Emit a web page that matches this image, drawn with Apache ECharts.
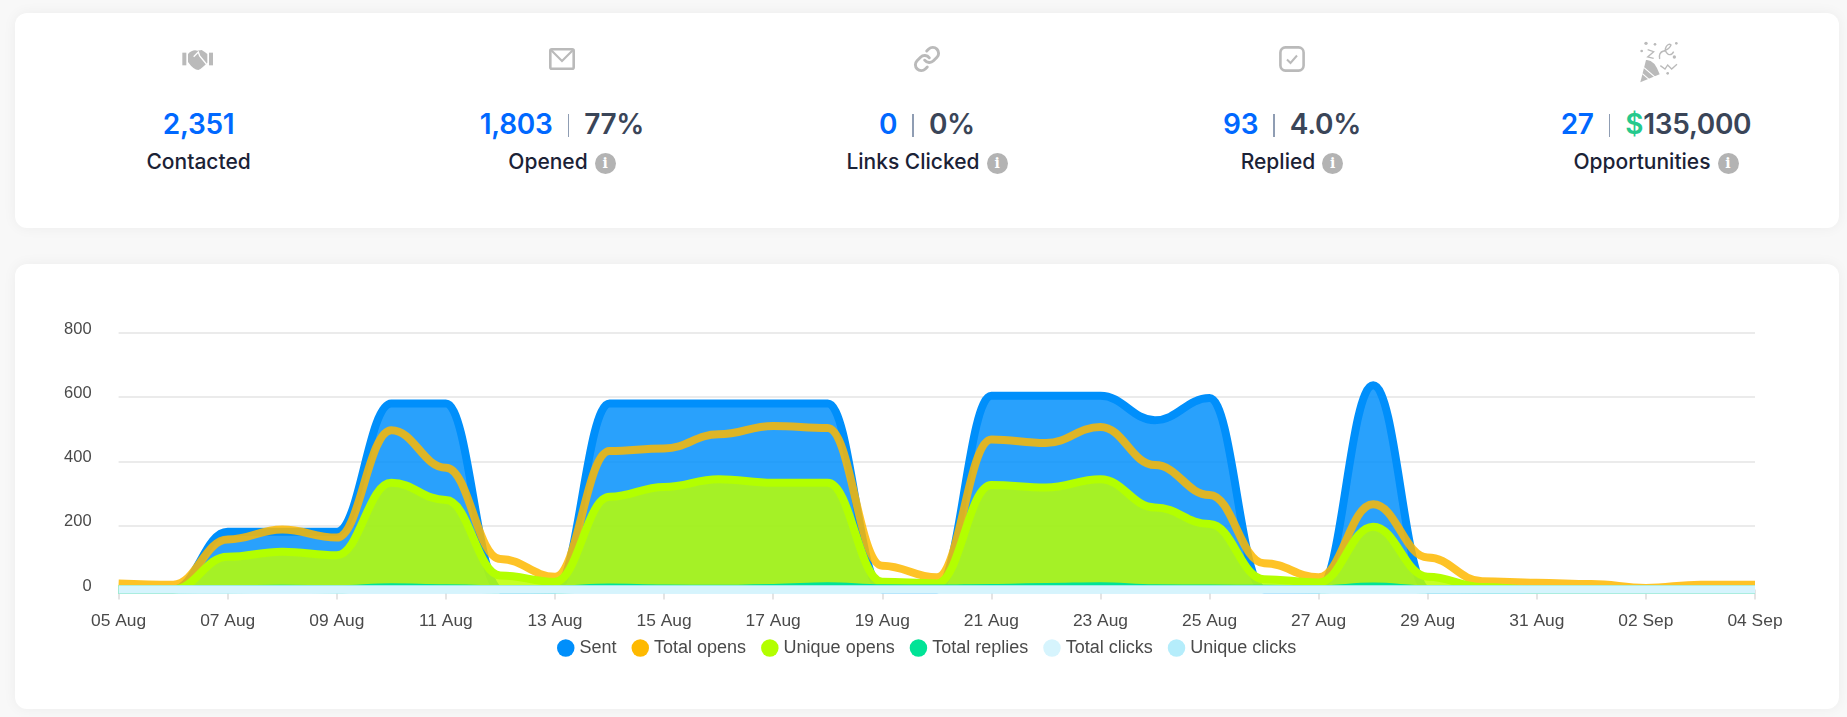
<!DOCTYPE html>
<html>
<head>
<meta charset="utf-8">
<script src="https://cdn.jsdelivr.net/npm/echarts@6/dist/echarts.min.js"></script>
<style>
html,body{margin:0;padding:0;width:1847px;height:717px;overflow:hidden;background:#f8f8f8;}
.card{position:absolute;left:15px;width:1824px;background:#fff;border-radius:12px;box-shadow:0 0 14px rgba(0,0,0,.05);}
#c1{top:13px;height:215px;}
#c2{top:264px;height:445px;}
#chart{position:absolute;left:0;top:0;width:1847px;height:717px;}
.kpi{position:absolute;top:0;width:364px;height:228px;font-family:Inter,"Noto Sans",sans-serif;text-align:center;}
.icon{position:absolute;left:0;width:100%;text-align:center;}
.icon svg{display:block;margin:0 auto;}
.num{position:absolute;left:-40px;right:-40px;top:105.5px;height:36px;line-height:36px;font-size:28px;font-weight:600;color:#3a4558;letter-spacing:-.3px;white-space:nowrap;}
.num .b{color:#0068ff;}
.num .g{color:#25c98c;}
.num .sep{display:inline-block;width:1.6px;height:23px;background:#8f9db3;margin:0 15px;vertical-align:-3px;}
.lab{position:absolute;left:-40px;right:-40px;top:149px;height:26px;line-height:26px;font-size:21px;font-weight:500;color:#1b2236;white-space:nowrap;}
.info{display:inline-block;width:21px;height:21px;border-radius:50%;background:#b3b3b3;color:#fff;font:700 14px/21px "DejaVu Serif",serif;margin-left:7px;vertical-align:1px;}
</style>
</head>
<body>
<div class="card" id="c1"></div>
<div class="card" id="c2"></div>
<div id="kpis"></div>
<div id="chart"></div>
<script>
const days = ['05 Aug','06 Aug','07 Aug','08 Aug','09 Aug','10 Aug','11 Aug','12 Aug','13 Aug','14 Aug','15 Aug','16 Aug','17 Aug','18 Aug','19 Aug','20 Aug','21 Aug','22 Aug','23 Aug','24 Aug','25 Aug','26 Aug','27 Aug','28 Aug','29 Aug','30 Aug','31 Aug','01 Sep','02 Sep','03 Sep','04 Sep'];
const sent        = [0,0,180,180,180,580,580,0,0,580,580,580,580,580,0,0,604,604,604,528,597,0,0,637,0,0,0,0,0,0,0];
const totalOpens  = [19,15,156,187,162,497,380,95,40,432,440,484,510,504,74,38,468,457,507,388,295,82,38,266,100,26,21,17,5,15,15];
const uniqueOpens = [0,0,102,118,107,333,279,44,24,289,320,344,333,333,24,19,326,318,344,256,204,32,22,196,40,8,0,0,0,0,0];
const totalReplies= [0,0,1,2,1,7,4,1,0,6,3,2,5,10,4,3,5,8,10,4,3,2,1,9,1,0,0,0,0,0,0];
const totalClicks = [0,0,0,0,0,0,0,0,0,0,0,0,0,0,0,0,0,0,0,0,0,0,0,0,0,0,0,0,0,0,0];
const uniqueClicks= [0,0,0,0,0,0,0,0,0,0,0,0,0,0,0,0,0,0,0,0,0,0,0,0,0,0,0,0,0,0,0];
const seriesNames = ['Sent','Total opens','Unique opens','Total replies','Total clicks','Unique clicks'];
const seriesColors= ['#008ffb','#feb900','#b3ff00','#00e396','#d6f4fd','#b5edfb'];
const kpiCenters  = [198.6,562,927,1292,1656];
const kpiLabels   = ['Contacted','Opened','Links Clicked','Replied','Opportunities'];
const kpiCounts   = ['2,351','1,803','0','93','27'];
const kpiRates    = ['','77%','0%','4.0%','135,000'];
const kpiInfo     = [false,true,true,true,true];

const G='#bababa';
const icons=[
 {top:40,svg:`<svg width="60" height="40" viewBox="0 0 180 120"><rect x="40" y="38" width="12" height="38" fill="${G}"/><rect x="120" y="38" width="12" height="38" fill="${G}"/><path d="M57 42 Q70 28 85 32 L98 30 Q108 36 115 42 L115 68 Q100 84 88 90 Q74 90 57 66Z" fill="${G}"/><path d="M74 50 L88 36 L92 48 L112 72" stroke="#fff" stroke-width="4" fill="none"/></svg>`},
 {top:48,svg:`<svg width="26" height="22" viewBox="0 0 26 22"><rect x="1.3" y="1.3" width="23.4" height="19.4" rx="1.5" fill="none" stroke="${G}" stroke-width="2.6"/><path d="M2 2 L13 13 L24 2" fill="none" stroke="${G}" stroke-width="2.2"/></svg>`},
 {top:45,svg:`<svg width="28" height="28" viewBox="0 0 24 24" fill="none" stroke="${G}" stroke-width="2.5" stroke-linecap="round"><path d="M10 13a5 5 0 0 0 7.54.54l3-3a5 5 0 0 0-7.07-7.07l-1.72 1.71"/><path d="M14 11a5 5 0 0 0-7.54-.54l-3 3a5 5 0 0 0 7.07 7.07l1.71-1.71"/></svg>`},
 {top:46,svg:`<svg width="26" height="26" viewBox="0 0 26 26" fill="none" stroke="${G}"><rect x="1.4" y="1.4" width="23.2" height="23.2" rx="5" stroke-width="2.6"/><path d="M8 13.5 L11.5 17 L18 9.5" stroke-width="2"/></svg>`},
 {top:35,svg:`<svg width="70" height="55" viewBox="0 0 210 165"><path d="M58 142 L75 75 Q100 72 116 118Z" fill="${G}"/><path d="M64 116 L92 140 M69 98 L104 128" stroke="#fff" stroke-width="3.5"/><g fill="none" stroke="${G}" stroke-width="4"><path d="M80 44 L98 50 L80 66 L98 70"/><path d="M116 72 Q112 52 128 48 Q146 42 150 30 Q144 24 136 34 Q128 48 142 58 Q152 62 158 50"/><path d="M118 92 L132 102 L140 90 L152 102 L168 88"/></g><g fill="${G}"><circle cx="75" cy="25" r="5"/><circle cx="102" cy="28" r="4"/><circle cx="166" cy="25" r="4"/><circle cx="160" cy="66" r="5"/><circle cx="62" cy="48" r="4"/><circle cx="140" cy="115" r="4"/></g></svg>`}
];
const host=document.getElementById('kpis');
kpiLabels.forEach((lab,i)=>{
  const d=document.createElement('div');
  d.className='kpi';
  d.style.left=(kpiCenters[i]-182)+'px';
  const sep='<span class="sep"></span>';
  let n=`<span class="b">${kpiCounts[i]}</span>`;
  if(i===4) n+=sep+`<span class="g">$</span>${kpiRates[i]}`;
  else if(kpiRates[i]) n+=sep+kpiRates[i];
  d.innerHTML=`<div class="icon" style="top:${icons[i].top}px">${icons[i].svg}</div>`+
    `<div class="num">${n}</div>`+
    `<div class="lab">${lab}${kpiInfo[i]?'<span class="info">i</span>':''}</div>`;
  host.appendChild(d);
});

const mkSeries=(i,z,data,op)=>({
  name:seriesNames[i],type:'line',data,z,smooth:0.42,smoothMonotone:'x',showSymbol:false,clip:false,
  itemStyle:{color:seriesColors[i]},
  lineStyle:{color:seriesColors[i],width:8,cap:'butt',join:'round',opacity:op.line},
  areaStyle:op.area?{color:op.fill||seriesColors[i],opacity:op.area}:undefined,
  emphasis:{disabled:true}
});
const chart=echarts.init(document.getElementById('chart'),null,{renderer:'canvas'});
const font='"Liberation Sans",Arial,sans-serif';
chart.setOption({
  animation:false,
  backgroundColor:'transparent',
  grid:{left:118.6,right:92,top:333,bottom:127.5,containLabel:false},
  legend:{
    data:seriesNames,left:557,top:639,padding:0,icon:'circle',itemWidth:17.5,itemHeight:17.5,itemGap:15,
    textStyle:{fontFamily:font,fontSize:18,color:'#4a4a4a'},selectedMode:false
  },
  xAxis:{
    type:'category',boundaryGap:false,data:days,
    axisLine:{show:false},
    axisTick:{show:true,alignWithLabel:true,length:10,interval:1,lineStyle:{color:'#dcdcdc',width:1.5}},
    axisLabel:{interval:1,margin:23,showMinLabel:true,showMaxLabel:true,hideOverlap:false,fontFamily:font,fontSize:17.4,color:'#4a4a4a'},
    splitLine:{show:false}
  },
  yAxis:{
    type:'value',min:0,max:800,interval:200,
    axisLine:{show:false},axisTick:{show:false},
    axisLabel:{margin:27,fontFamily:font,fontSize:16.5,color:'#4a4a4a',verticalAlign:'bottom',lineHeight:7},
    splitLine:{lineStyle:{color:'#e4e4e4',width:1.5}}
  },
  series:[
    mkSeries(0,3,sent,{line:1,area:.84}),
    mkSeries(1,4,totalOpens,{line:.85}),
    mkSeries(2,5,uniqueOpens,{line:1,area:.85,fill:'#bbff00'}),
    mkSeries(3,6,totalReplies,{line:1,area:.85}),
    mkSeries(5,7,uniqueClicks,{line:1,area:.85}),
    mkSeries(4,8,totalClicks,{line:1,area:.85})
  ]
});
</script>
</body>
</html>
